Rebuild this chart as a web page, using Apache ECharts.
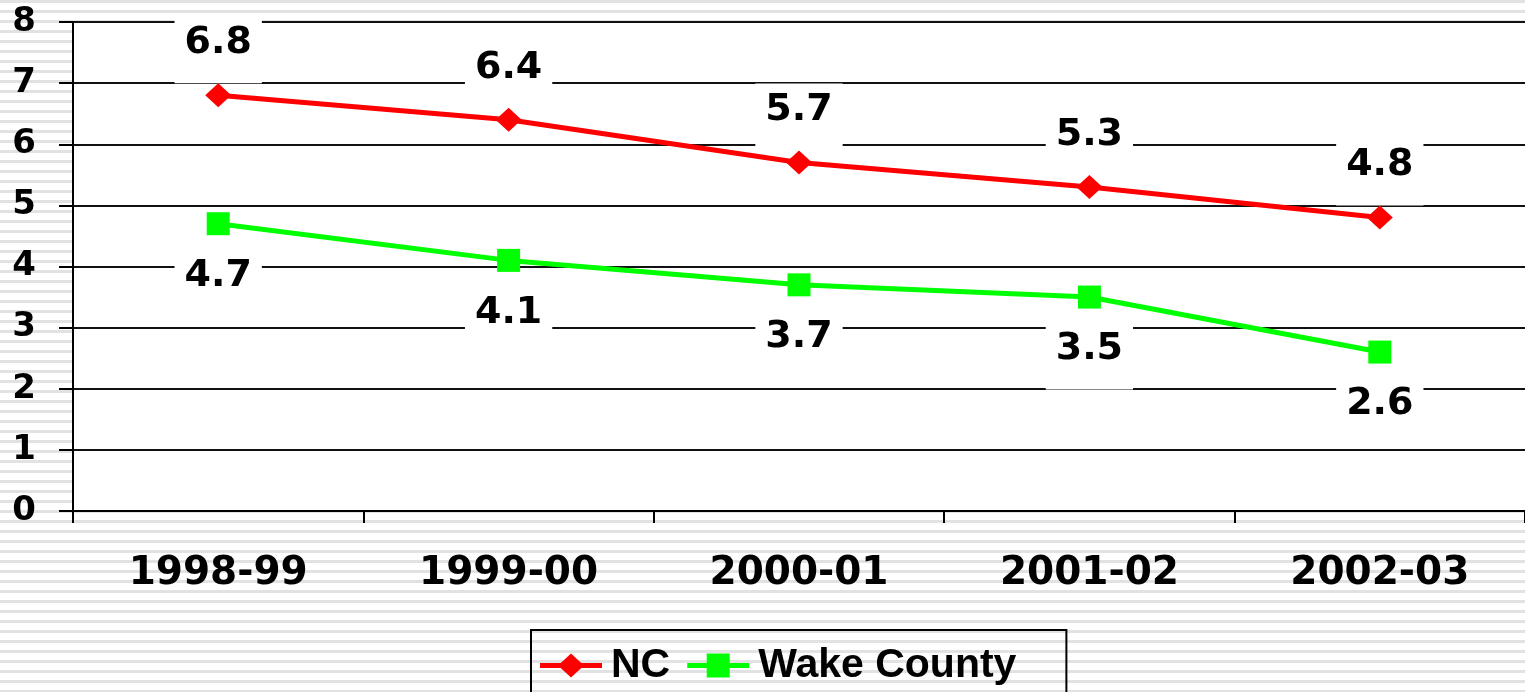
<!DOCTYPE html>
<html>
<head>
<meta charset="utf-8">
<script src="https://cdn.jsdelivr.net/npm/echarts@6/dist/echarts.min.js"></script>
<style>
html, body {
    margin: 0;
    padding: 0;
    width: 1525px;
    height: 692px;
    overflow: hidden;
    background: repeating-linear-gradient(to bottom, #e2e2e2 0px, #e2e2e2 3px, #ffffff 3px, #ffffff 10px);
}
#chart {
    width: 1525px;
    height: 692px;
}
</style>
</head>
<body>
<div id="chart"></div>
<script>
var years = ['1998-99', '1999-00', '2000-01', '2001-02', '2002-03'];
var ncValues = [6.8, 6.4, 5.7, 5.3, 4.8];
var wakeValues = [4.7, 4.1, 3.7, 3.5, 2.6];
var yTicks = [0, 8, 1]; // min, max, interval

var numFont = '"DejaVu Sans", Verdana, sans-serif';

// legend icons: thick line with the marker in the middle (62 x 24 box)
var ncIcon = 'path://M0,9.5L62,9.5L62,14.5L0,14.5Z M31,0L44,12L31,24L18,12Z';
var wakeIcon = 'path://M0,9.5L62,9.5L62,14.5L0,14.5Z M19.5,0L42.5,0L42.5,24L19.5,24Z';

var myChart = echarts.init(document.getElementById('chart'), null, { renderer: 'canvas' });

// label box with white fill, covers the grid lines behind it
function pointLabel(pos, dist, padTop) {
    return {
        show: true,
        position: pos,
        distance: dist,
        color: '#000',
        fontFamily: numFont,
        fontWeight: 'bold',
        fontSize: 38,
        lineHeight: 38,
        backgroundColor: '#fff',
        padding: [padTop, 10, 21, 10],
        formatter: function (p) { return p.value.toFixed(1); }
    };
}

var option = {
    animation: false,
    backgroundColor: 'transparent',
    grid: {
        show: true,
        left: 73,
        top: 22,
        width: 1457,
        height: 489,
        backgroundColor: '#fff',
        borderWidth: 0
    },
    legend: {
        left: 531,
        top: 630,
        padding: [15, 50, 20, 9],
        borderColor: '#000',
        borderWidth: 2,
        itemWidth: 62,
        itemHeight: 24,
        itemGap: 17,
        data: [
            { name: 'NC', icon: ncIcon },
            { name: 'Wake County', icon: wakeIcon }
        ],
        textStyle: {
            fontFamily: '"Liberation Sans", Arial, sans-serif',
            fontWeight: 'bold',
            fontSize: 41,
            color: '#000',
            padding: [0, 0, 0, 4]
        }
    },
    xAxis: {
        type: 'category',
        data: years,
        boundaryGap: true,
        axisLine: { lineStyle: { color: '#000', width: 2 } },
        axisTick: { show: true, length: 12, lineStyle: { color: '#000', width: 2 } },
        axisLabel: {
            margin: 43,
            color: '#000',
            fontFamily: numFont,
            fontWeight: 'bold',
            fontSize: 39
        }
    },
    yAxis: {
        type: 'value',
        min: yTicks[0],
        max: yTicks[1],
        interval: yTicks[2],
        axisLine: { show: true, lineStyle: { color: '#000', width: 2 } },
        axisTick: { show: true, length: 14, lineStyle: { color: '#000', width: 2 } },
        splitLine: { lineStyle: { color: '#111', width: 2 } },
        axisLabel: {
            margin: 37,
            color: '#000',
            fontFamily: numFont,
            fontWeight: 'bold',
            fontSize: 34
        }
    },
    series: [
        {
            name: 'NC',
            type: 'line',
            data: ncValues,
            color: '#ff0000',
            symbol: 'diamond',
            symbolSize: [26, 24],
            lineStyle: { width: 5, color: '#ff0000' },
            itemStyle: { color: '#ff0000' },
            label: pointLabel('top', 0, 8),
            z: 3
        },
        {
            name: 'Wake County',
            type: 'line',
            data: wakeValues,
            color: '#00ff00',
            symbol: 'rect',
            symbolSize: 23,
            lineStyle: { width: 5, color: '#00ff00' },
            itemStyle: { color: '#00ff00' },
            label: pointLabel('bottom', 16, 6),
            z: 2
        }
    ]
};

option && myChart.setOption(option);
</script>
</body>
</html>
